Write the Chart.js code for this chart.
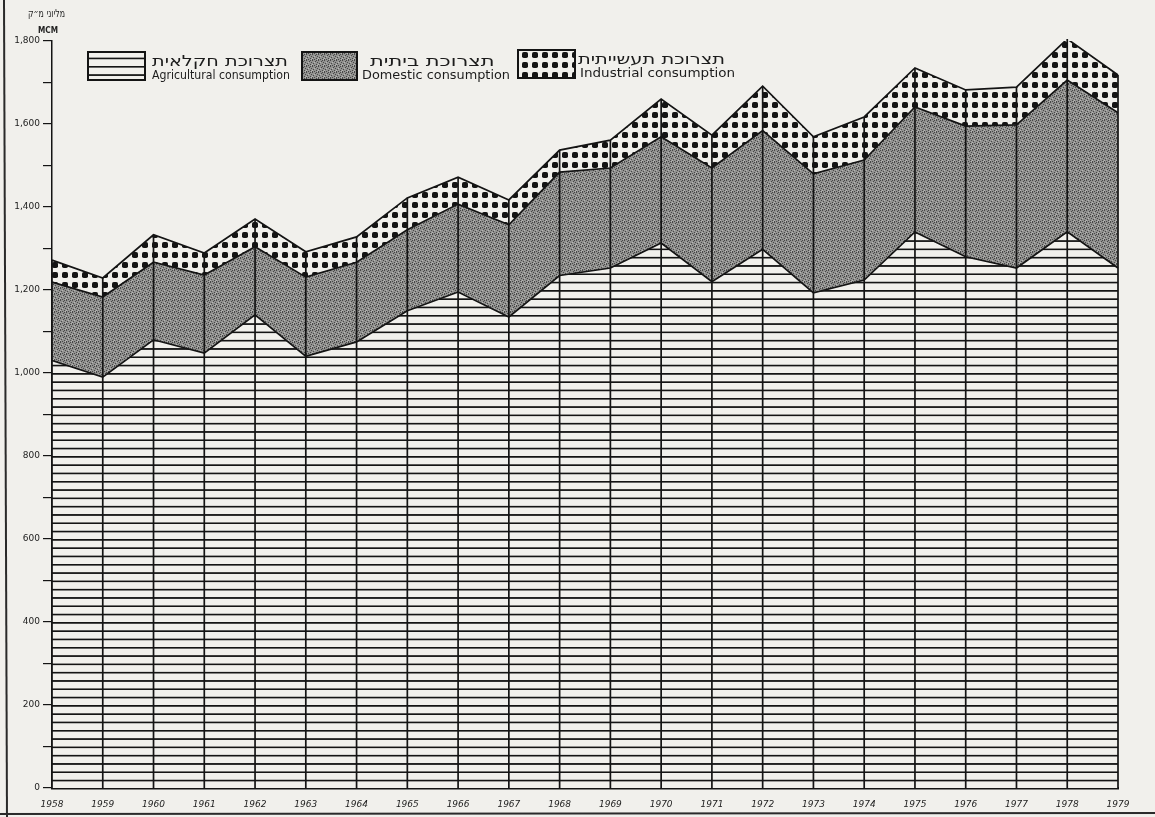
<!DOCTYPE html>
<html><head><meta charset="utf-8">
<script src="https://cdn.jsdelivr.net/npm/chart.js@4.4.1/dist/chart.umd.min.js"></script>
<style>html,body{margin:0;padding:0;background:#f1f0ec;}#wrap{width:1155px;height:817px;position:relative}</style>
</head><body><div id="wrap"><canvas id="c" width="1155" height="817"></canvas></div>
<script>
// ---- data (million cubic metres) ----
const years = ['1958','1959','1960','1961','1962','1963','1964','1965','1966','1967','1968','1969','1970','1971','1972','1973','1974','1975','1976','1977','1978','1979'];
const agricultural = [1030, 990, 1080, 1048, 1140, 1040, 1075, 1150, 1195, 1135, 1235, 1253, 1313, 1220, 1298, 1193, 1224, 1340, 1280, 1253, 1340, 1253];
const domestic     = [189, 193, 187, 188, 164, 191, 192, 195, 212, 222, 249, 241, 256, 274, 286, 287, 289, 301, 315, 345, 366, 374];
const industrial   = [53, 46, 66, 53, 67, 61, 61, 77, 65, 60, 53, 67, 91, 79, 107, 89, 104, 94, 87, 91, 99, 91];
const seriesHe = ['תצרוכת חקלאית','תצרוכת ביתית','תצרוכת תעשייתית'];
const seriesEn = ['Agricultural consumption','Domestic consumption','Industrial consumption'];
const unitHe = 'מליוני מ״ק';
const unitEn = 'MCM';

const BG = '#f1f0ec';
const INK = '#141414';

function tile(w,h,draw){const c=document.createElement('canvas');c.width=w;c.height=h;const g=c.getContext('2d');draw(g);return g.createPattern(c,'repeat');}
const agriPat = tile(10,10,g=>{g.fillStyle=BG;g.fillRect(0,0,10,10);g.fillStyle=INK;g.fillRect(0,0,10,2);});
agriPat.setTransform(new DOMMatrix().translate(0,788).scale(1,0.83));
const domPat = tile(6,6,g=>{g.fillStyle='#929290';g.fillRect(0,0,6,6);g.fillStyle='#474747';
  [[0,0],[3,1],[1,3],[4,4],[2,5],[5,2],[4,0],[0,5]].forEach(p=>g.fillRect(p[0],p[1],1,1));
  g.fillStyle='#b8b8b6';[[2,2],[5,5],[0,4]].forEach(p=>g.fillRect(p[0],p[1],1,1));});
const indPat = tile(10,10,g=>{g.fillStyle=BG;g.fillRect(0,0,10,10);g.fillStyle=INK;g.beginPath();
  if(g.roundRect){g.roundRect(2,2,6,6,1.8);}else{g.rect(2,2,6,6);} g.fill();});

// draw text stretched horizontally to span width w, starting at x (left edge)
function fitText(ctx,text,x,y,w,font,rtl){
  ctx.save();
  ctx.font=font; ctx.direction=rtl?'rtl':'ltr'; ctx.textAlign='left';
  const m=ctx.measureText(text).width;
  const s=Math.min(1.4,Math.max(0.7,w/m));
  ctx.translate(x,y); ctx.scale(s,1);
  ctx.fillText(text,0,0);
  ctx.restore();
}

const decor = {
  id:'decor',
  beforeDraw(chart){
    const c=chart.ctx; c.save(); c.fillStyle=BG; c.fillRect(0,0,chart.width,chart.height);
    c.strokeStyle='#2a2a2a'; c.lineWidth=2;
    c.beginPath(); c.moveTo(4,0); c.lineTo(7,817); c.stroke();
    c.beginPath(); c.moveTo(0,814); c.lineTo(1155,813); c.stroke();
    c.restore();
  },
  afterDatasetsDraw(chart){
    const c=chart.ctx, xs=chart.scales.x, ys=chart.scales.y;
    c.save(); c.strokeStyle=INK; c.lineWidth=1.7;
    years.forEach((yr,i)=>{
      const x=xs.getPixelForValue(i);
      const tot=agricultural[i]+domestic[i]+industrial[i];
      c.beginPath(); c.moveTo(x,ys.getPixelForValue(0)); c.lineTo(x,ys.getPixelForValue(tot)); c.stroke();
    });
    c.restore();
  },
  afterDraw(chart){
    const c=chart.ctx; c.save();
    c.fillStyle='#222'; c.textBaseline='alphabetic';
    fitText(c,unitHe,28,17,37,'11px "DejaVu Sans"',true);
    fitText(c,unitEn,38,33,20,'bold 8px "DejaVu Sans"',false);
    const boxes=[{x:88,y:52,w:57,h:28,p:agriPat,he:[152,136],en:[152,138]},
                 {x:302,y:52,w:55,h:28,p:domPat,he:[370,130],en:[362,148]},
                 {x:518,y:50,w:57,h:28,p:indPat,he:[578,147],en:[580,155]}];
    boxes.forEach((b,i)=>{
      c.fillStyle=b.p; c.fillRect(b.x,b.y,b.w,b.h);
      c.strokeStyle=INK; c.lineWidth=2; c.strokeRect(b.x,b.y,b.w,b.h);
      c.fillStyle='#1c1c1c';
      fitText(c,seriesHe[i],b.he[0],b.y+14,b.he[1],'15px "DejaVu Sans"',true);
      fitText(c,seriesEn[i],b.en[0],b.y+27,b.en[1],'12px "DejaVu Sans"',false);
    });
    c.restore();
  }
};

const ds=(label,data,fill,bg)=>({label,data,fill,backgroundColor:bg,borderColor:INK,borderWidth:1.7,pointRadius:0,tension:0});

new Chart(document.getElementById('c'),{
  type:'line',
  data:{labels:years,datasets:[
    ds(seriesEn[0],agricultural,'origin',agriPat),
    ds(seriesEn[1],domestic,'-1',domPat),
    ds(seriesEn[2],industrial,'-1',indPat)
  ]},
  options:{
    responsive:false,animation:false,devicePixelRatio:1,
    layout:{padding:{top:41,right:37,left:0,bottom:0}},
    plugins:{legend:{display:false},tooltip:{enabled:false}},
    scales:{
      x:{type:'category',offset:false,grid:{display:false},border:{color:INK,width:2.5},
         ticks:{color:'#222',font:{family:'DejaVu Sans',size:9,style:'italic'},padding:3,maxRotation:0,autoSkip:false},
         afterFit(s){s.height=29;}},
      y:{stacked:true,min:0,max:1800,border:{color:INK,width:1.5},
         grid:{drawOnChartArea:false,drawTicks:true,tickLength:9,color:INK,lineWidth:1.2},
         ticks:{stepSize:100,autoSkip:false,callback:v=>v%200===0?v.toLocaleString('en-US'):'',color:'#222',font:{family:'DejaVu Sans',size:9},padding:3},
         afterFit(s){s.width=52;}}
    }
  },
  plugins:[decor]
});
</script></body></html>
